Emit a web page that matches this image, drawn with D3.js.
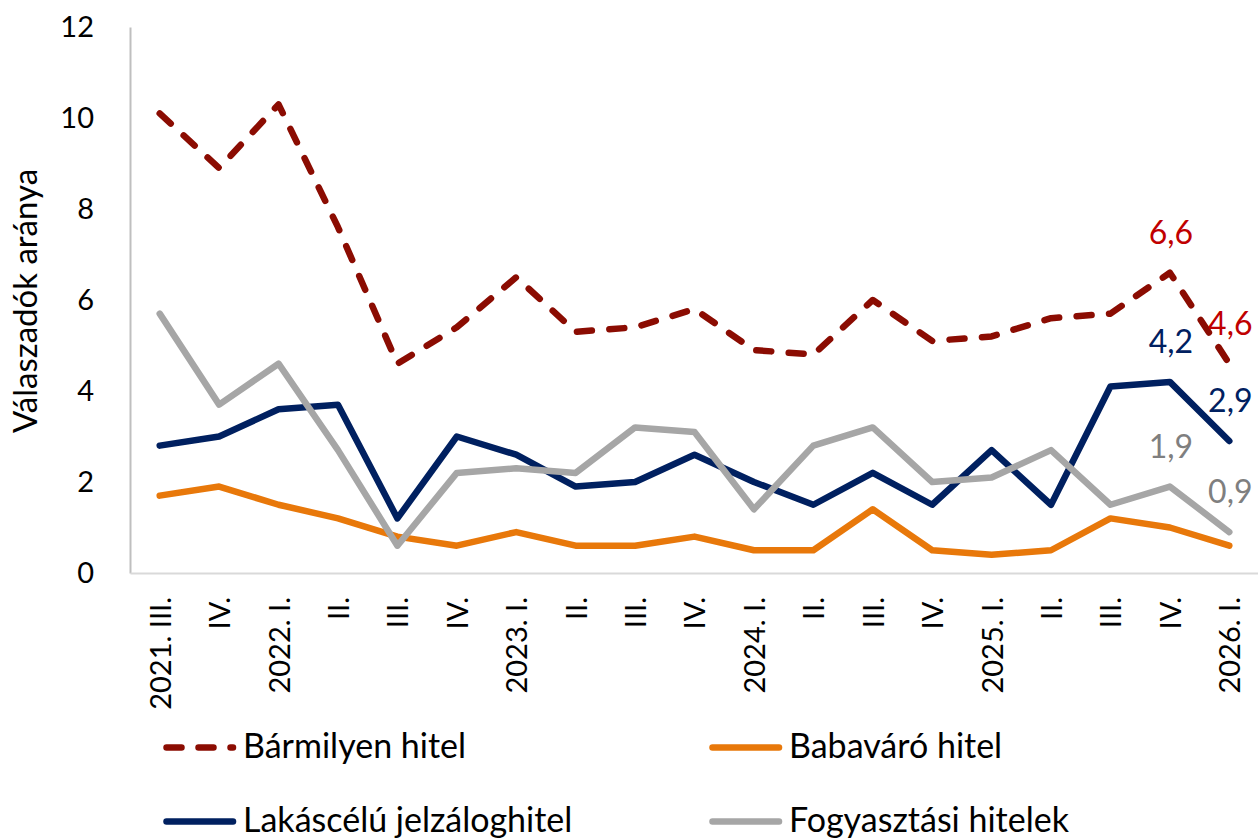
<!DOCTYPE html>
<html lang="hu">
<head>
<meta charset="UTF-8">
<title>Hitelfelvételi szándék</title>
<script src="https://d3js.org/d3.v7.min.js"></script>
<style>
  body { margin: 0; background: #fff; font-family: 'Lato', 'Noto Sans', sans-serif; }
  svg text { font-family: 'Lato', 'Noto Sans', sans-serif; }
</style>
</head>
<body>
<script>
// negyedévek
const categories = ["2021. III.", "IV.", "2022. I.", "II.", "III.", "IV.", "2023. I.", "II.", "III.", "IV.",
  "2024. I.", "II.", "III.", "IV.", "2025. I.", "II.", "III.", "IV.", "2026. I."];

const barmilyen   = [10.1, 8.9, 10.3, 7.6, 4.6, 5.4, 6.5, 5.3, 5.4, 5.8, 4.9, 4.8, 6.0, 5.1, 5.2, 5.6, 5.7, 6.6, 4.6];
const babavaro    = [1.7, 1.9, 1.5, 1.2, 0.8, 0.6, 0.9, 0.6, 0.6, 0.8, 0.5, 0.5, 1.4, 0.5, 0.4, 0.5, 1.2, 1.0, 0.6];
const lakascelu   = [2.8, 3.0, 3.6, 3.7, 1.2, 3.0, 2.6, 1.9, 2.0, 2.6, 2.0, 1.5, 2.2, 1.5, 2.7, 1.5, 4.1, 4.2, 2.9];
const fogyasztasi = [5.7, 3.7, 4.6, 2.7, 0.6, 2.2, 2.3, 2.2, 3.2, 3.1, 1.4, 2.8, 3.2, 2.0, 2.1, 2.7, 1.5, 1.9, 0.9];

const yTicks = [0, 2, 4, 6, 8, 10, 12];
const yTitle = "Válaszadók aránya";
const labelIdx = [17, 18]; // utolsó két pont címkéje

const series = [
  { name: "Bármilyen hitel", values: barmilyen, color: "#8B0C02", label: "#C00000", dash: true },
  { name: "Babaváró hitel", values: babavaro, color: "#E8780A", label: null },
  { name: "Lakáscélú jelzáloghitel", values: lakascelu, color: "#002060", label: "#002060" },
  { name: "Fogyasztási hitelek", values: fogyasztasi, color: "#A6A6A6", label: "#7F7F7F" }
];

const width = 1258, height = 839;
const plotLeft = 130, plotRight = 1259, plotTop = 27, plotBottom = 573;

const svg = d3.select("body").append("svg")
  .attr("width", width)
  .attr("height", height);

// a kategórianevek ismétlődnek, ezért index a domain
const x = d3.scalePoint().domain(d3.range(categories.length)).range([plotLeft, plotRight]).padding(0.5);
const y = d3.scaleLinear().domain([0, 12]).range([plotBottom, plotTop]);

// tengelyek
const yAxis = svg.append("g")
  .attr("transform", `translate(${plotLeft},0)`)
  .call(d3.axisLeft(y).tickValues(yTicks).tickSize(0).tickPadding(36).tickFormat(d3.format("d")));
yAxis.select(".domain").attr("stroke", "#BFBFBF").attr("stroke-width", 2);
yAxis.selectAll("text").attr("font-size", 29).attr("fill", "#000");

const xAxis = svg.append("g")
  .attr("transform", `translate(0,${plotBottom})`)
  .call(d3.axisBottom(x).tickSize(0).tickFormat(i => categories[i]));
xAxis.select(".domain").attr("stroke", "#D9D9D9").attr("stroke-width", 2);
xAxis.selectAll("text")
  .attr("font-size", 29)
  .attr("fill", "#000")
  .attr("transform", "rotate(-90)")
  .attr("text-anchor", "end")
  .attr("x", -24)
  .attr("y", 0)
  .attr("dy", "0.36em");

svg.append("text")
  .attr("transform", `translate(37,301) rotate(-90)`)
  .attr("text-anchor", "middle")
  .attr("font-size", 33)
  .text(yTitle);

// vonalak
const line = d3.line()
  .x((d, i) => x(i))
  .y(d => y(d));

series.forEach(s => {
  const p = svg.append("path")
    .datum(s.values)
    .attr("d", line)
    .attr("fill", "none")
    .attr("stroke", s.color)
    .attr("stroke-width", 6.5)
    .attr("stroke-linejoin", "round")
    .attr("stroke-linecap", "round");
  if (s.dash) p.attr("stroke-dasharray", "15,17.5");
});

// adatcímkék
series.filter(s => s.label).forEach(s => {
  labelIdx.forEach(i => {
    svg.append("text")
      .attr("x", x(i) + 1)
      .attr("y", y(s.values[i]) - 29)
      .attr("text-anchor", "middle")
      .attr("font-size", 32)
      .attr("fill", s.label)
      .text(d3.format(".1f")(s.values[i]).replace(".", ","));
  });
});

// jelmagyarázat
const legendPos = [[163, 758], [709, 758], [163, 832], [709, 832]];
series.forEach((s, i) => {
  const [lx, ly] = legendPos[i];
  const g = svg.append("g").attr("transform", `translate(${lx},${ly})`);
  const l = g.append("line")
    .attr("x1", 3.5).attr("x2", 70)
    .attr("y1", -10.5).attr("y2", -10.5)
    .attr("stroke", s.color)
    .attr("stroke-width", 6.5)
    .attr("stroke-linecap", "round");
  if (s.dash) l.attr("stroke-dasharray", "15,17");
  g.append("text")
    .attr("x", 80)
    .attr("font-size", 34)
    .attr("fill", "#000")
    .text(s.name);
});
</script>
</body>
</html>
